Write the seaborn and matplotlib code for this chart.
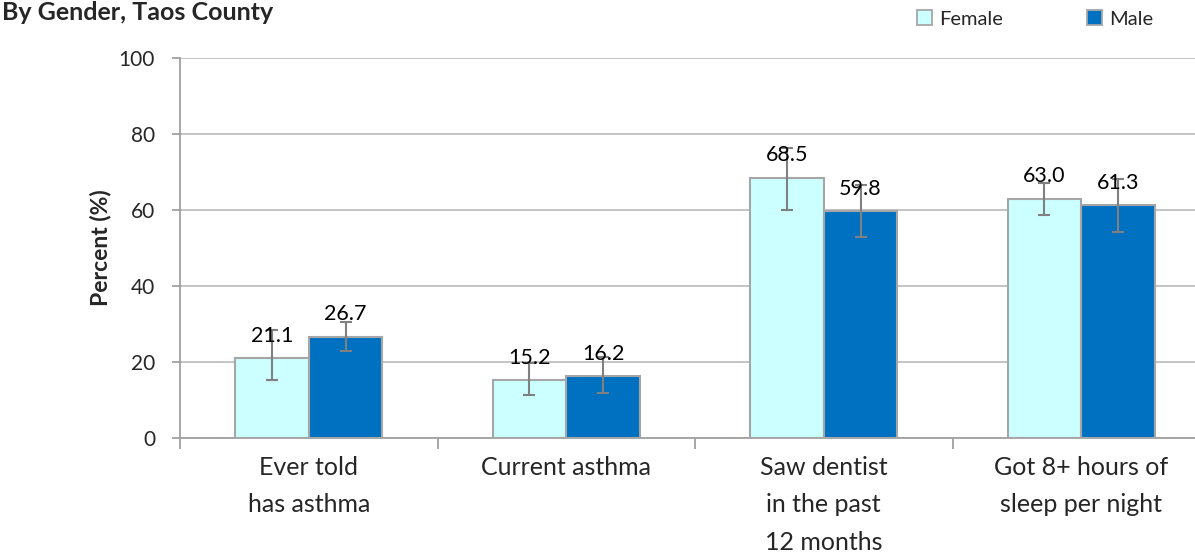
import pandas as pd
import matplotlib
matplotlib.use("Agg")
import matplotlib.pyplot as plt
from matplotlib.patches import Patch
import seaborn as sns

# chart data
categories = ["Ever told\nhas asthma", "Current asthma",
              "Saw dentist\nin the past\n12 months", "Got 8+ hours of\nsleep per night"]
genders = ["Female", "Male"]
female = [21.1, 15.2, 68.5, 63.0]
male = [26.7, 16.2, 59.8, 61.3]
female_lo = [15.3, 11.4, 60.0, 58.8]
female_hi = [28.4, 19.7, 76.2, 67.2]
male_lo = [23.0, 11.8, 53.0, 54.3]
male_hi = [30.6, 21.4, 66.6, 68.2]
yticks = [0, 20, 40, 60, 80, 100]

colors = {"Female": "#CCFFFF", "Male": "#0070C0"}
edge = "#A6A6A6"
err_col = "#808080"

df = pd.DataFrame({
    "Category": categories * 2,
    "Gender": ["Female"] * 4 + ["Male"] * 4,
    "Percent": female + male,
})

sns.set_theme(style="white")
plt.rcParams["font.family"] = ["Lato", "DejaVu Sans"]

fig = plt.figure(figsize=(11.95, 5.56), dpi=100)
ax = fig.add_axes([180 / 1195, 118 / 556, 1030 / 1195, 380 / 556])

sns.barplot(data=df, x="Category", y="Percent", hue="Gender", order=categories,
            hue_order=genders, palette=colors, saturation=1, width=0.572,
            edgecolor=edge, linewidth=1.5, errorbar=None, ax=ax, legend=False, zorder=3)

# error bars and value labels
lows = {"Female": female_lo, "Male": male_lo}
highs = {"Female": female_hi, "Male": male_hi}
for cont, g in zip(ax.containers, genders):
    for i, bar in enumerate(cont):
        xc = bar.get_x() + bar.get_width() / 2
        h = bar.get_height()
        ax.errorbar(xc, h, yerr=[[h - lows[g][i]], [highs[g][i] - h]],
                    fmt="none", ecolor=err_col, elinewidth=1.5, capsize=4,
                    capthick=1.5, zorder=4)
        ax.annotate(f"{h:.1f}", (xc, h), xytext=(0, 16), textcoords="offset points",
                    ha="center", va="center", fontsize=15.5, color="black", zorder=5)

ax.set_ylim(0, 100)
ax.set_xlim(-0.5, 3.5)
ax.set_yticks(yticks)
ax.set_xlabel("")
ax.set_ylabel("Percent (%)", fontsize=16.5, fontweight="bold", labelpad=5)
ax.yaxis.grid(True, color="#BFBFBF", linewidth=1.3, zorder=0)
ax.set_axisbelow(True)

for s in ["top", "right"]:
    ax.spines[s].set_visible(False)
for s in ["left", "bottom"]:
    ax.spines[s].set_color("#A0A0A0")
    ax.spines[s].set_linewidth(1.3)

ax.tick_params(axis="y", which="major", left=True, length=6, width=1.3,
               color="#A0A0A0", labelsize=15, pad=12)
ax.tick_params(axis="x", which="major", bottom=False, length=0, labelsize=18, pad=13)
ax.set_xticks([-0.5, 0.5, 1.5, 2.5, 3.5], minor=True)
ax.tick_params(axis="x", which="minor", bottom=True, length=8, width=1.3, color="#A0A0A0")
for lab in ax.get_xticklabels():
    lab.set_linespacing(1.76)
    lab.set_va("top")

fig.text(0.002, 1 - 20 / 556, "By Gender, Taos County", fontsize=18, fontweight="bold",
         ha="left", va="baseline")

handles = [Patch(facecolor=colors[g], edgecolor=edge, linewidth=1.3) for g in genders]
fig.legend(handles, genders, loc="center left", bbox_to_anchor=(0.767, 1 - 19 / 556),
           ncol=2, frameon=False, fontsize=14.5, handlelength=0.75, handleheight=0.75,
           handletextpad=0.35, columnspacing=4.2, borderaxespad=0, borderpad=0)

fig.savefig("out.png", dpi=100)
